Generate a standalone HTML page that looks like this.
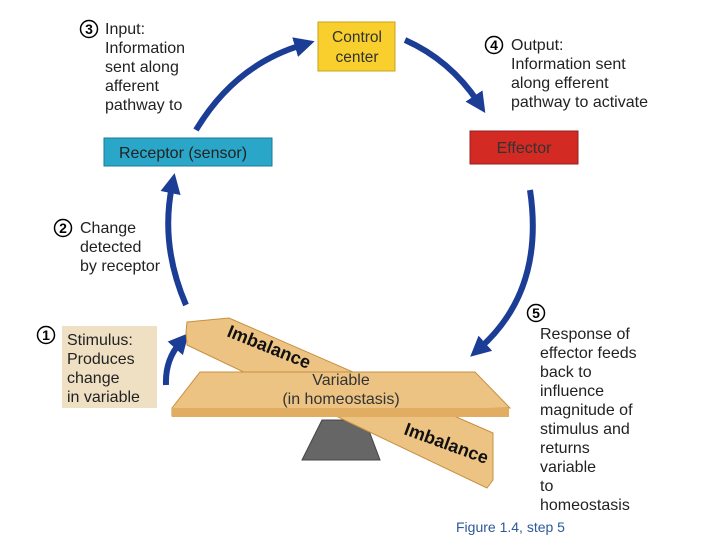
<!DOCTYPE html>
<html><head><style>
body{margin:0;background:#fff;}
svg{display:block;}
svg text{font-family:"Liberation Sans",Arial,Helvetica,sans-serif;}
</style></head><body>
<svg width="720" height="540" viewBox="0 0 720 540" xmlns="http://www.w3.org/2000/svg" font-family="Liberation Sans, Arial, sans-serif">
<defs>
<marker id="ah" markerWidth="3.4" markerHeight="3.4" refX="1.2" refY="1.7" orient="auto" markerUnits="strokeWidth">
<path d="M0,0 L3.4,1.7 L0,3.4 Z" fill="#1b3d96"/></marker>
</defs>
<g stroke="#1b3d96" stroke-width="6" fill="none" marker-end="url(#ah)">
<path d="M196,130 Q235,65 302,45"/>
<path d="M405,40 Q450,60 478,102"/>
<path d="M530,190 Q545,290 480,348"/>
<path d="M186,305 Q160,245 172,186"/>
<path d="M166,385 Q165,360 180,343"/>
</g>
<rect x="318" y="22" width="77" height="49" fill="#f8cf2c" stroke="#c9a020"/>
<text x="357" y="42" font-size="15.5" text-anchor="middle" fill="#333">Control</text>
<text x="357" y="62" font-size="15.5" text-anchor="middle" fill="#333">center</text>
<rect x="104" y="138" width="168" height="28" fill="#2aa6c8" stroke="#1a7a96"/>
<text x="183" y="158" font-size="16" text-anchor="middle" fill="#222">Receptor (sensor)</text>
<rect x="470" y="131" width="108" height="33" fill="#d42a24" stroke="#902020"/>
<text x="524" y="153" font-size="16" text-anchor="middle" fill="#333">Effector</text>
<rect x="62" y="326" width="95" height="82" fill="#efe0c4"/>
<g font-size="16" fill="#222">
<text x="105" y="34">Input:</text><text x="105" y="53">Information</text><text x="105" y="72">sent along</text><text x="105" y="91">afferent</text><text x="105" y="110">pathway to</text>
<text x="511" y="50">Output:</text><text x="511" y="69">Information sent</text><text x="511" y="88">along efferent</text><text x="511" y="107">pathway to activate</text>
<text x="80" y="233">Change</text><text x="80" y="252">detected</text><text x="80" y="271">by receptor</text>
<text x="67" y="345">Stimulus:</text><text x="67" y="364">Produces</text><text x="67" y="383">change</text><text x="67" y="402">in variable</text>
<text x="540" y="339">Response of</text><text x="540" y="358">effector feeds</text><text x="540" y="377">back to</text><text x="540" y="396">influence</text><text x="540" y="415">magnitude of</text><text x="540" y="434">stimulus and</text><text x="540" y="453">returns</text><text x="540" y="472">variable</text><text x="540" y="491">to</text><text x="540" y="510">homeostasis</text>
</g>
<text x="456" y="532" font-size="14" fill="#2a5a9a">Figure 1.4, step 5</text>
<g font-size="14" font-weight="bold" text-anchor="middle">
<circle cx="89" cy="29" r="8.5" fill="#fff" stroke="#000" stroke-width="1.5"/><text x="89" y="34">3</text>
<circle cx="494" cy="45" r="8.5" fill="#fff" stroke="#000" stroke-width="1.5"/><text x="494" y="50">4</text>
<circle cx="63" cy="228" r="8.5" fill="#fff" stroke="#000" stroke-width="1.5"/><text x="63" y="233">2</text>
<circle cx="46" cy="335" r="8.5" fill="#fff" stroke="#000" stroke-width="1.5"/><text x="46" y="340">1</text>
<circle cx="536" cy="313" r="8.5" fill="#fff" stroke="#000" stroke-width="1.5"/><text x="536" y="318">5</text>
</g>
<polygon points="302,460 322,420 365,420 380,460" fill="#666" stroke="#444"/>
<polygon points="187,322 229,318 493,433 493,480 487,488 187,345 186,332" fill="#ecc383" stroke="#c89040"/>
<polygon points="200,372 475,372 510,408 172,416 172,408" fill="#ecc383" stroke="#c89040"/>
<rect x="172" y="408" width="337" height="9" fill="#e0ad62"/>
<text transform="translate(226,336) rotate(22)" font-size="18" font-weight="bold" fill="#111">Imbalance</text>
<text transform="translate(403,434) rotate(20)" font-size="18" font-weight="bold" fill="#111">Imbalance</text>
<text x="341" y="385" font-size="16" text-anchor="middle" fill="#333">Variable</text>
<text x="341" y="404" font-size="16" text-anchor="middle" fill="#333">(in homeostasis)</text>
</svg>
</body></html>
